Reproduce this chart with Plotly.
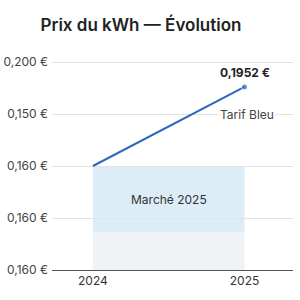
import plotly.graph_objects as go

years = [2024, 2025]
prix = [0.18, 0.1952]
tick_vals = [0.16, 0.17, 0.18, 0.19, 0.20]
tick_text = ["0,160 €", "0,160 €", "0,160 €", "0,150 €", "0,200 €"]
band_blue = [0.1673, 0.18]
band_grey = [0.16, 0.1673]

fig = go.Figure()
fig.add_shape(type="rect", xref="x", yref="y", x0=years[0], x1=years[1],
              y0=band_grey[0], y1=band_grey[1], fillcolor="#F0F3F6", line_width=0, layer="below")
fig.add_shape(type="rect", xref="x", yref="y", x0=years[0], x1=years[1],
              y0=band_blue[0], y1=band_blue[1], fillcolor="#DCEDF8", line_width=0, layer="below")

fig.add_trace(go.Scatter(x=years, y=prix, mode="lines+markers",
                         line=dict(color="#2A68C0", width=2),
                         marker=dict(size=[0, 6], color="#2A68C0"),
                         hoverinfo="skip", showlegend=False))

fig.add_annotation(x=years[1], y=prix[1], text="<b>0,1952 €</b>", showarrow=False,
                   yshift=14, font=dict(size=12, color="#222"))
fig.add_annotation(x=years[1], y=0.19, text="Tarif Bleu", showarrow=False, xshift=2,
                   bgcolor="white", font=dict(size=12, color="#444"))
fig.add_annotation(x=(years[0] + years[1]) / 2, y=(band_blue[0] + band_blue[1]) / 2,
                   text="Marché 2025", showarrow=False, font=dict(size=12, color="#333"))

fig.update_layout(
    width=300, height=300,
    margin=dict(l=52, r=7, t=50, b=30),
    paper_bgcolor="white", plot_bgcolor="white",
    font=dict(family="Inter, sans-serif"),
    title=dict(text="Prix du kWh — Évolution", x=0.47, xanchor="center", y=0.915, yanchor="middle",
               font=dict(size=17, color="#222", weight=600)),
    xaxis=dict(range=[2023.73, 2025.32], tickvals=years, ticktext=[str(y) for y in years],
               showgrid=False, zeroline=False, showline=True, linecolor="#555", linewidth=1,
               ticks="", automargin=False, tickfont=dict(size=12, color="#333")),
    yaxis=dict(range=[0.16, 0.20231], tickvals=tick_vals, ticktext=tick_text,
               showgrid=True, gridcolor="#E3E3E3", gridwidth=1, zeroline=False,
               ticks="", ticklabelstandoff=3, automargin=False,
               tickfont=dict(size=12, color="#444")),
)

fig.write_html("out.html")
